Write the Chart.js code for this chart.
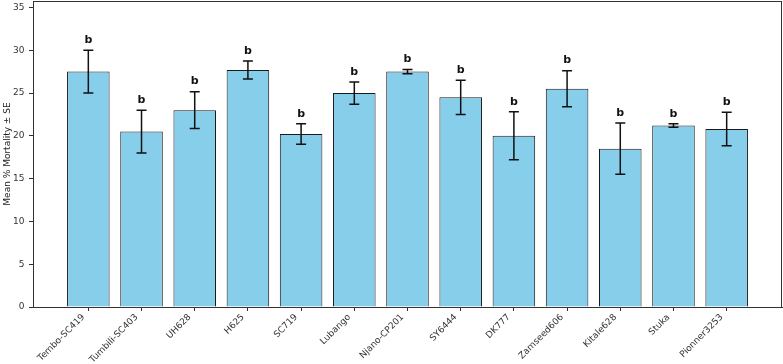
<!DOCTYPE html>
<html>
<head>
<meta charset="utf-8">
<script src="https://cdn.jsdelivr.net/npm/chart.js@4/dist/chart.umd.min.js"></script>
<style>
html,body{margin:0;padding:0;background:#fff;}
#wrap{width:783px;height:364px;}
</style>
</head>
<body>
<div id="wrap"><canvas id="c" width="783" height="364"></canvas></div>
<script>
const categories = ["Tembo-SC419","Tumbili-SC403","UH628","H625","SC719","Lubango","Njano-CP201","SY6444","DK777","Zamseed606","Kitale628","Stuka","Pionner3253"];
const meanMortality = [27.5, 20.5, 23.0, 27.7, 20.2, 25.0, 27.5, 24.5, 20.0, 25.5, 18.5, 21.2, 20.8];
const standardError = [2.5, 2.5, 2.15, 1.05, 1.2, 1.3, 0.25, 2.0, 2.8, 2.1, 3.0, 0.2, 1.95];
const groupLetters = ["b","b","b","b","b","b","b","b","b","b","b","b","b"];
const yTicks = [0, 5, 10, 15, 20, 25, 30, 35];

const points = categories.map((c, i) => ({x: i, y: meanMortality[i]}));

const extras = {
  id: 'extras',
  afterDatasetsDraw(chart) {
    const ctx = chart.ctx;
    const xs = chart.scales.x, ys = chart.scales.y;
    const a = chart.chartArea;
    ctx.save();
    ctx.strokeStyle = '#111';
    ctx.lineWidth = 1.5;
    ctx.fillStyle = '#111';
    ctx.font = 'bold 11px "DejaVu Sans"';
    ctx.textAlign = 'center';
    ctx.textBaseline = 'alphabetic';
    const cap = 5;
    meanMortality.forEach((m, i) => {
      const x = xs.getPixelForValue(i);
      const yt = ys.getPixelForValue(m + standardError[i]);
      const yb = ys.getPixelForValue(m - standardError[i]);
      ctx.beginPath();
      ctx.moveTo(x, yt); ctx.lineTo(x, yb);
      ctx.moveTo(x - cap, yt); ctx.lineTo(x + cap, yt);
      ctx.moveTo(x - cap, yb); ctx.lineTo(x + cap, yb);
      ctx.stroke();
      ctx.fillText(groupLetters[i], x, ys.getPixelForValue(m + standardError[i] + 0.85));
    });
    ctx.strokeStyle = '#333';
    ctx.lineWidth = 1;
    ctx.strokeRect(Math.round(a.left) + 0.5, Math.round(a.top) + 0.5, Math.round(a.right - a.left) - 1, Math.round(a.bottom - a.top));
    ctx.restore();
  }
};

new Chart(document.getElementById('c'), {
  type: 'bar',
  data: {
    datasets: [{
      data: points,
      backgroundColor: '#87CEEB',
      borderColor: '#1a1a1a',
      borderWidth: 1,
      barPercentage: 0.8,
      categoryPercentage: 1.0
    }]
  },
  options: {
    responsive: false,
    animation: false,
    devicePixelRatio: 1,
    layout: {padding: {top: 1, right: 1, left: 0, bottom: 0}},
    plugins: {legend: {display: false}, tooltip: {enabled: false}},
    scales: {
      x: {
        type: 'linear',
        min: -1.04,
        max: 13.04,
        offset: false,
        afterBuildTicks: (s) => { s.ticks = categories.map((c, i) => ({value: i})); },
        afterFit: (s) => { s.height = 57; },
        ticks: {
          autoSkip: false,
          minRotation: 45,
          maxRotation: 45,
          padding: 1,
          labelOffset: -5,
          color: '#333',
          font: {family: '"DejaVu Sans"', size: 9},
          callback: (v) => categories[v] !== undefined ? categories[v] : ''
        },
        grid: {display: true, drawOnChartArea: false, offset: false, tickLength: 4, color: '#333'},
        border: {display: true, color: '#333'}
      },
      y: {
        min: 0,
        max: 35.75,
        afterBuildTicks: (s) => { s.ticks = yTicks.map(v => ({value: v})); },
        afterFit: (s) => { s.width = 33; },
        ticks: {
          padding: 0,
          color: '#333',
          font: {family: '"DejaVu Sans"', size: 9, lineHeight: 0.1},
          callback: (v) => v + '\u2002'
        },
        title: {
          display: true,
          text: 'Mean % Mortality ± SE',
          color: '#222',
          font: {family: '"DejaVu Sans"', size: 9},
          padding: {top: 2, bottom: 0}
        },
        grid: {display: true, drawOnChartArea: false, tickLength: 4, color: '#333'},
        border: {display: true, color: '#333'}
      }
    }
  },
  plugins: [extras]
});
</script>
</body>
</html>
